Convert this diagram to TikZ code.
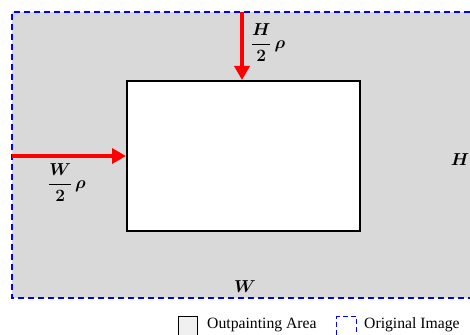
\documentclass[tikz,border=0pt]{standalone}
\usepackage{amsmath,bm}
\usepackage{fontspec}
\setmainfont{Liberation Serif}
\usetikzlibrary{arrows.meta}
\definecolor{areagrey}{HTML}{D9D9D9}
\definecolor{legendgrey}{HTML}{F0F0F0}
\tikzset{
  origimg/.style={draw=blue, line width=1.6pt, dash pattern=on 6pt off 4pt},
  innerbox/.style={draw=black, line width=2pt, fill=white},
  redarrow/.style={draw=red, line width=4.5pt, -{Triangle[length=14pt,width=15pt]}},
  mathlbl/.style={font=\LARGE},
  legtext/.style={font=\fontsize{15.7}{18}\selectfont, anchor=west, inner sep=0pt}
}
\begin{document}
\begin{tikzpicture}[x=1pt,y=-1pt]
\useasboundingbox (0,0) rectangle (470,334);
\clip (0,0) rectangle (470,334);
% outer area
\fill[areagrey] (12,12) rectangle (480,298);
\draw[origimg] (480,12) -- (12,12) -- (12,298) -- (480,298);
% inner box
\node[innerbox, minimum width=233pt, minimum height=150pt, inner sep=0pt, anchor=north west] (inner) at (126,80) {};
% arrows
\coordinate (topstart) at (242,12);
\coordinate (leftstart) at (12,156);
\draw[redarrow] (topstart) -- (inner.north -| topstart);
\draw[redarrow] (leftstart) -- (inner.west |- leftstart);
% labels
\node[mathlbl] (hl) at (268,43) {$\bm{\dfrac{H}{2}\,\rho}$};
\node[mathlbl] (wl) at (67,183) {$\bm{\dfrac{W}{2}\,\rho}$};
\node[mathlbl] (hlab) at (460,160) {$\bm{H}$};
\node[mathlbl] (wlab) at (245,287) {$\bm{W}$};
% legend
\node[draw=black, line width=1.2pt, fill=legendgrey, minimum width=19pt, minimum height=19pt, inner sep=0pt, anchor=north west] (leg1) at (178,316) {};
\node[legtext] (leg1t) at (207,325) {Outpainting Area};
\node[origimg, line width=1.4pt, dash pattern=on 5pt off 3pt, minimum width=20pt, minimum height=19pt, inner sep=0pt, anchor=north west] (leg2) at (336,316) {};
\node[legtext] (leg2t) at (364,325) {Original Image};
\end{tikzpicture}
\end{document}
